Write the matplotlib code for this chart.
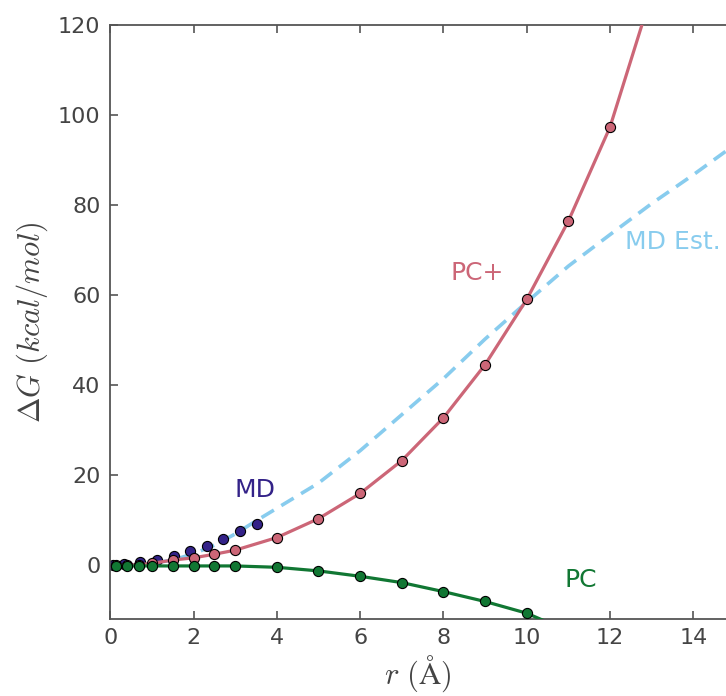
import matplotlib
matplotlib.use("Agg")
import matplotlib.pyplot as plt

plt.rcParams['mathtext.fontset'] = 'cm'
plt.rcParams['font.family'] = ['DejaVu Sans']

# PC+ (points and line)
pcp_x = [0.15, 0.4, 0.7, 1, 1.5, 2, 2.5, 3, 4, 5, 6, 7, 8, 9, 10, 11, 12]
pcp_y = [0.0, 0.1, 0.2, 0.47, 1.2, 1.7, 2.5, 3.4, 6.2, 10.4, 16.0, 23.3, 32.8, 44.6, 59.1, 76.5, 97.4]
pcp_line_x = pcp_x + [13]
pcp_line_y = pcp_y + [127.0]

# PC (points and line)
pc_x = [0.15, 0.4, 0.7, 1, 1.5, 2, 2.5, 3, 4, 5, 6, 7, 8, 9, 10]
pc_y = [-0.1, -0.1, -0.1, -0.1, -0.1, -0.1, -0.1, -0.1, -0.4, -1.2, -2.4, -3.8, -5.8, -8.0, -10.6]
pc_line_x = pc_x + [11]
pc_line_y = pc_y + [-14.6]

# MD points
md_x = [0.07, 0.32, 0.72, 1.12, 1.52, 1.92, 2.32, 2.72, 3.12, 3.52]
md_y = [0.0, 0.4, 0.7, 1.3, 2.2, 3.3, 4.4, 5.9, 7.6, 9.3]

# MD Est. (dashed)
mde_x = [0, 0.5, 1, 1.5, 2, 2.5, 3, 3.5, 4, 5, 6, 7, 8, 9, 10, 11, 12, 13, 14, 15]
mde_y = [0, 0.1, 0.5, 1.2, 2.6, 4.5, 7.0, 9.9, 12.7, 18.3, 25.5, 33.5, 41.5, 50.3, 58.5, 66.5, 73.5, 80.4, 86.8, 93.5]

c_pcp = '#CC6677'
c_pc = '#117733'
c_md = '#332288'
c_mde = '#88CCEE'

fig = plt.figure(figsize=(7.26, 6.96), dpi=100)
ax = fig.add_axes([0.1518, 0.1112, 1.0 - 0.1518, 0.9636 - 0.1112])

ax.plot(mde_x, mde_y, color=c_mde, lw=2.6, ls=(0, (4.0, 2.4)), zorder=1)
ax.plot(md_x, md_y, 'o', color=c_md, mec='black', mew=0.8, ms=7.3, zorder=2)
ax.plot(pcp_line_x, pcp_line_y, '-', color=c_pcp, lw=2.3, zorder=3)
ax.plot(pcp_x, pcp_y, 'o', color=c_pcp, mec='black', mew=0.8, ms=7.3, zorder=3)
ax.plot(pc_line_x, pc_line_y, '-', color=c_pc, lw=2.3, zorder=4)
ax.plot(pc_x, pc_y, 'o', color=c_pc, mec='black', mew=0.8, ms=7.3, zorder=4)

ax.text(3.48, 16.7, 'MD', color=c_md, fontsize=18, ha='center', va='center')
ax.text(8.82, 64.9, 'PC+', color=c_pcp, fontsize=18, ha='center', va='center')
ax.text(13.5, 71.8, 'MD Est.', color=c_mde, fontsize=18, ha='center', va='center')
ax.text(11.3, -3.3, 'PC', color=c_pc, fontsize=18, ha='center', va='center')

ax.set_xlim(0, 14.785)
ax.set_ylim(-11.8, 120)
ax.set_xticks([0, 2, 4, 6, 8, 10, 12, 14])
ax.set_yticks([0, 20, 40, 60, 80, 100, 120])

for side in ['left', 'bottom', 'top']:
    ax.spines[side].set_color('#555555')
    ax.spines[side].set_linewidth(1.3)
ax.spines['right'].set_visible(False)

ax.tick_params(axis='both', direction='in', length=6, width=1.2, color='#555555',
               labelcolor='#444444', labelsize=16)
ax.tick_params(axis='x', top=True, pad=7)
ax.tick_params(axis='y', pad=7)

ax.set_xlabel(r'$r\ (\mathrm{\AA})$', fontsize=22, color='#444444', labelpad=4)
ax.set_ylabel(r'$\Delta G\ (kcal/mol)$', fontsize=22, color='#444444', labelpad=6)

fig.savefig('out.png', dpi=100)
